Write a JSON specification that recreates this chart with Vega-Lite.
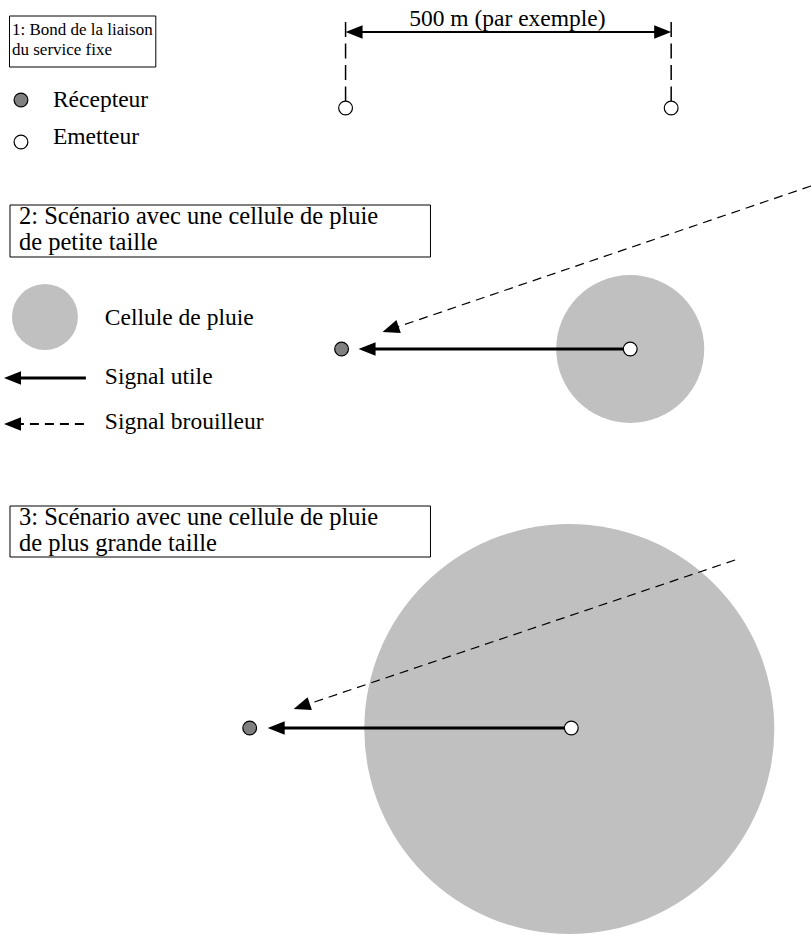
{
  "$schema": "https://vega.github.io/schema/vega-lite/v6.json",
  "width": 812,
  "height": 941,
  "autosize": {"type": "fit", "contains": "padding"},
  "padding": 0,
  "background": "white",
  "config": {"view": {"stroke": null}},
  "datasets": {
    "boites": [
      {"x": 9.5, "x2": 156, "y": 16, "y2": 67, "cadre": "1"},
      {"x": 10, "x2": 431, "y": 205, "y2": 257, "cadre": "2"},
      {"x": 10, "x2": 431, "y": 506, "y2": 557, "cadre": "3"}
    ],
    "cellules": [
      {"x": 45, "y": 317, "rayon": 33, "role": "legende"},
      {"x": 631, "y": 349, "rayon": 74, "role": "scenario 2"},
      {"x": 570, "y": 729, "rayon": 205, "role": "scenario 3"}
    ],
    "liaisons": [
      {"x": 355, "y": 32, "x2": 663, "y2": 32, "type": "cote"},
      {"x": 346, "y": 22, "x2": 346, "y2": 101, "type": "repere"},
      {"x": 672, "y": 22, "x2": 672, "y2": 101, "type": "repere"},
      {"x": 86, "y": 378, "x2": 14, "y2": 378, "type": "utile"},
      {"x": 631, "y": 349, "x2": 368, "y2": 349, "type": "utile"},
      {"x": 572, "y": 728, "x2": 277, "y2": 728, "type": "utile"},
      {"x": 84, "y": 424, "x2": 12, "y2": 424, "type": "brouilleur-legende"},
      {"x": 812, "y": 186, "x2": 392.5, "y2": 328.8, "type": "brouilleur"},
      {"x": 736, "y": 560, "x2": 303.5, "y2": 705.8, "type": "brouilleur"}
    ],
    "fleches": [
      {"x": 346, "y": 32, "direction": 0},
      {"x": 672, "y": 32, "direction": 180},
      {"x": 4, "y": 378, "direction": 0},
      {"x": 4, "y": 424, "direction": 0},
      {"x": 359, "y": 349, "direction": 0},
      {"x": 268, "y": 728, "direction": 0},
      {"x": 383, "y": 332, "direction": 341.2},
      {"x": 294, "y": 709, "direction": 341.4}
    ],
    "stations": [
      {"x": 21, "y": 100, "type": "Récepteur"},
      {"x": 342, "y": 349, "type": "Récepteur"},
      {"x": 250, "y": 728, "type": "Récepteur"},
      {"x": 21, "y": 142, "type": "Emetteur"},
      {"x": 346, "y": 108, "type": "Emetteur"},
      {"x": 672, "y": 108, "type": "Emetteur"},
      {"x": 631, "y": 349, "type": "Emetteur"},
      {"x": 572, "y": 728, "type": "Emetteur"}
    ],
    "textes": [
      {"x": 12, "y": 35, "texte": "1: Bond de la liaison", "groupe": "cadre1"},
      {"x": 12, "y": 55, "texte": "du service fixe", "groupe": "cadre1"},
      {"x": 508, "y": 26, "texte": "500 m (par exemple)", "groupe": "cote"},
      {"x": 53, "y": 107, "texte": "Récepteur", "groupe": "normal"},
      {"x": 53, "y": 144, "texte": "Emetteur", "groupe": "normal"},
      {"x": 19, "y": 224, "texte": "2: Scénario avec une cellule de pluie", "groupe": "cadre"},
      {"x": 19, "y": 250, "texte": "de petite taille", "groupe": "cadre"},
      {"x": 105, "y": 325, "texte": "Cellule de pluie", "groupe": "normal"},
      {"x": 105, "y": 384, "texte": "Signal utile", "groupe": "normal"},
      {"x": 105, "y": 429, "texte": "Signal brouilleur", "groupe": "normal"},
      {"x": 19, "y": 525, "texte": "3: Scénario avec une cellule de pluie", "groupe": "cadre"},
      {"x": 19, "y": 551, "texte": "de plus grande taille", "groupe": "cadre"}
    ]
  },
  "encoding": {
    "x": {"field": "x", "type": "quantitative", "axis": null, "scale": {"domain": [0, 812], "nice": false, "zero": false}},
    "y": {"field": "y", "type": "quantitative", "axis": null, "scale": {"domain": [0, 941], "nice": false, "zero": false, "reverse": true}}
  },
  "layer": [
    {
      "data": {"name": "boites"},
      "mark": {"type": "rect", "fill": "white", "stroke": "black", "strokeWidth": 1},
      "encoding": {"x2": {"field": "x2"}, "y2": {"field": "y2"}}
    },
    {
      "data": {"name": "cellules"},
      "mark": {"type": "point", "shape": "circle", "filled": true, "color": "#C0C0C0", "opacity": 1, "strokeWidth": 0},
      "encoding": {
        "size": {"field": "rayon", "type": "quantitative", "legend": null, "scale": {"type": "pow", "exponent": 2, "domain": [0, 205], "range": [0, 168100]}}
      }
    },
    {
      "data": {"name": "liaisons"},
      "transform": [{"filter": "datum.type === 'utile'"}],
      "mark": {"type": "rule", "color": "black", "strokeWidth": 3.2},
      "encoding": {"x2": {"field": "x2"}, "y2": {"field": "y2"}}
    },
    {
      "data": {"name": "liaisons"},
      "transform": [{"filter": "datum.type === 'cote'"}],
      "mark": {"type": "rule", "color": "black", "strokeWidth": 2},
      "encoding": {"x2": {"field": "x2"}, "y2": {"field": "y2"}}
    },
    {
      "data": {"name": "liaisons"},
      "transform": [{"filter": "datum.type === 'repere'"}],
      "mark": {"type": "rule", "color": "black", "strokeWidth": 1.5, "strokeDash": [15, 6.5]},
      "encoding": {"x2": {"field": "x2"}, "y2": {"field": "y2"}}
    },
    {
      "data": {"name": "liaisons"},
      "transform": [{"filter": "datum.type === 'brouilleur-legende'"}],
      "mark": {"type": "rule", "color": "black", "strokeWidth": 2.2, "strokeDash": [9, 6]},
      "encoding": {"x2": {"field": "x2"}, "y2": {"field": "y2"}}
    },
    {
      "data": {"name": "liaisons"},
      "transform": [{"filter": "datum.type === 'brouilleur'"}],
      "mark": {"type": "rule", "color": "black", "strokeWidth": 1.2, "strokeDash": [9, 6]},
      "encoding": {"x2": {"field": "x2"}, "y2": {"field": "y2"}}
    },
    {
      "data": {"name": "fleches"},
      "mark": {"type": "point", "shape": "M0,0L2,-0.8L2,0.8Z", "filled": true, "color": "black", "opacity": 1, "size": 289, "strokeWidth": 0},
      "encoding": {"angle": {"field": "direction", "type": "quantitative", "scale": null}}
    },
    {
      "data": {"name": "stations"},
      "mark": {"type": "point", "shape": "circle", "filled": false, "opacity": 1, "size": 190, "stroke": "black", "strokeWidth": 1.2},
      "encoding": {
        "fill": {"field": "type", "type": "nominal", "legend": null, "scale": {"domain": ["Récepteur", "Emetteur"], "range": ["#808080", "#FFFFFF"]}}
      }
    },
    {
      "data": {"name": "textes"},
      "transform": [{"filter": "datum.groupe === 'cadre1'"}],
      "mark": {"type": "text", "align": "left", "baseline": "alphabetic", "font": "Liberation Serif", "fontSize": 17, "color": "black"},
      "encoding": {"text": {"field": "texte"}}
    },
    {
      "data": {"name": "textes"},
      "transform": [{"filter": "datum.groupe === 'cote'"}],
      "mark": {"type": "text", "align": "center", "baseline": "alphabetic", "font": "Liberation Serif", "fontSize": 23.5, "color": "black"},
      "encoding": {"text": {"field": "texte"}}
    },
    {
      "data": {"name": "textes"},
      "transform": [{"filter": "datum.groupe === 'cadre'"}],
      "mark": {"type": "text", "align": "left", "baseline": "alphabetic", "font": "Liberation Serif", "fontSize": 24.5, "color": "black"},
      "encoding": {"text": {"field": "texte"}}
    },
    {
      "data": {"name": "textes"},
      "transform": [{"filter": "datum.groupe === 'normal'"}],
      "mark": {"type": "text", "align": "left", "baseline": "alphabetic", "font": "Liberation Serif", "fontSize": 23.5, "color": "black"},
      "encoding": {"text": {"field": "texte"}}
    }
  ]
}
